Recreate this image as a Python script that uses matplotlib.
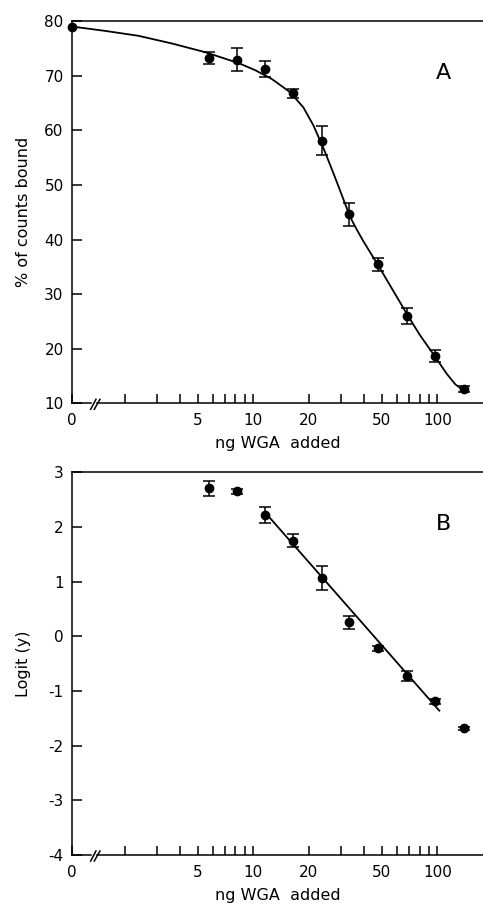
import matplotlib
matplotlib.use("Agg")
import matplotlib.pyplot as plt
from matplotlib.ticker import FixedLocator, FixedFormatter, NullFormatter

plt.rcParams["font.family"] = ["DejaVu Sans"]
plt.rcParams["axes.unicode_minus"] = False

# "0" dose sits at the left end of the broken log axis
x_zero = 1.034
x_max = 177

dose = [5.72, 8.2, 11.6, 16.5, 23.6, 33.1, 47.8, 68.7, 97.5, 139]

# panel A: % of counts bound
bound_zero = 79.0
bound = [73.2, 72.9, 71.2, 66.8, 58.1, 44.6, 35.5, 26.0, 18.7, 12.6]
bound_err = [1.1, 2.1, 1.4, 0.8, 2.65, 2.1, 1.2, 1.5, 1.1, 0.5]

# fitted curve
fit_dose = [1.034, 1.57, 2.38, 3.61, 5.48, 8.33, 10.25, 12.6, 15.8, 18.7,
            21.2, 24.0, 27.2, 30.2, 33.5, 36.5, 39.6, 48.8, 60.2, 68.2, 80.0,
            95.1, 112.5, 125, 138]
fit_bound = [79.0, 78.2, 77.3, 75.9, 74.3, 72.3, 71.0, 69.4, 67.0, 64.2,
             60.9, 56.8, 52.2, 48.2, 44.2, 41.8, 39.7, 34.7, 29.5, 26.4, 22.6,
             19.0, 15.4, 13.5, 12.4]

# panel B: logit transform
logit = [2.71, 2.65, 2.22, 1.75, 1.06, 0.26, -0.22, -0.72, -1.19, -1.68]
logit_err = [0.14, 0.05, 0.14, 0.12, 0.22, 0.12, 0.04, 0.09, 0.04, 0.03]
line_dose = [11.7, 102.5]
line_logit = [2.25, -1.36]

x_major = [x_zero, 5, 10, 20, 50, 100]
x_major_labels = ["0", "5", "10", "20", "50", "100"]
x_minor = [2, 3, 4, 6, 7, 8, 9, 30, 40, 60, 70, 80, 90]

fig = plt.figure(figsize=(4.83, 9.09), dpi=100)
axA = fig.add_axes([0.149, 0.5563, 0.851, 0.4205])
axB = fig.add_axes([0.149, 0.0594, 0.851, 0.4210])

lw = 1.1


def style_axes(ax, ylim, yticks, ylabel, letter):
    ax.set_xscale("log")
    ax.set_xlim(x_zero, x_max)
    ax.set_ylim(*ylim)
    ax.xaxis.set_major_locator(FixedLocator(x_major))
    ax.xaxis.set_major_formatter(FixedFormatter(x_major_labels))
    ax.xaxis.set_minor_locator(FixedLocator(x_minor))
    ax.xaxis.set_minor_formatter(NullFormatter())
    ax.set_yticks(yticks)
    ax.set_yticklabels([str(t) for t in yticks])
    ax.tick_params(which="both", direction="in", width=lw, labelsize=11,
                   top=False, right=False)
    ax.tick_params(axis="x", which="both", length=6.5, pad=7)
    ax.tick_params(axis="y", length=7, pad=6)
    ax.spines["right"].set_visible(False)
    ax.spines["bottom"].set_visible(False)
    ax.spines["top"].set_linewidth(lw)
    ax.spines["left"].set_linewidth(lw)

    # bottom axis line with a break just right of "0"
    kw = dict(transform=ax.transAxes, clip_on=False, color="k", lw=lw)
    ax.plot([0, 0.047], [0, 0], **kw)
    ax.plot([0.062, 1], [0, 0], **kw)
    ax.plot([0.0455, 0.0584], [-0.0157, 0.0105], **kw)
    ax.plot([0.0543, 0.0681], [-0.0157, 0.0105], **kw)

    ax.set_xlabel("ng WGA  added", fontsize=11.5)
    ax.xaxis.set_label_coords(0.5, -0.086)
    ax.set_ylabel(ylabel, fontsize=11.5)
    ax.yaxis.set_label_coords(-0.100, 0.5)
    ax.text(0.903, 0.864, letter, transform=ax.transAxes, fontsize=16,
            ha="center", va="center")


style_axes(axA, (10, 80), [10, 20, 30, 40, 50, 60, 70, 80],
           "% of counts bound", "A")
style_axes(axB, (-4, 3), [-4, -3, -2, -1, 0, 1, 2, 3], "Logit (y)", "B")

err_kw = dict(fmt="o", color="k", ms=6, elinewidth=lw, capsize=4.3,
              capthick=lw, clip_on=False, zorder=3)

axA.plot(fit_dose, fit_bound, color="k", lw=1.3, clip_on=False)
axA.errorbar(dose, bound, yerr=bound_err, **err_kw)
axA.plot([x_zero], [bound_zero], "o", color="k", ms=6, clip_on=False,
         zorder=3)

axB.plot(line_dose, line_logit, color="k", lw=1.3)
axB.errorbar(dose, logit, yerr=logit_err, **err_kw)

fig.savefig("out.png", dpi=100)
